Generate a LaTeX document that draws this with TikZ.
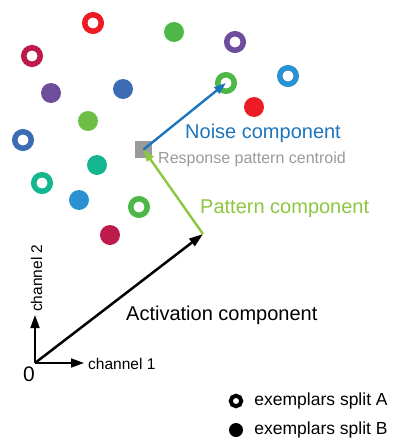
\documentclass[tikz,border=0pt]{standalone}
\usepackage{fontspec}
\setmainfont{Liberation Sans}
\usetikzlibrary{positioning, arrows.meta}

\definecolor{exred}{HTML}{ED1C24}
\definecolor{excrimson}{HTML}{BC1B4B}
\definecolor{expurple}{HTML}{6E4D9D}
\definecolor{exblue}{HTML}{3C6CB4}
\definecolor{exgreen}{HTML}{4DB848}
\definecolor{exlightgreen}{HTML}{6CBE45}
\definecolor{exteal}{HTML}{14B68F}
\definecolor{exsky}{HTML}{2A91D3}
\definecolor{noiseblue}{HTML}{1C75BC}
\definecolor{patterngreen}{HTML}{8DC63F}
\definecolor{centroidgray}{HTML}{9A9A9A}

\begin{document}
\begin{tikzpicture}[x=1pt, y=-1pt,
ringnode/.style={circle, draw=#1, line width=5.5pt, minimum size=16.5pt, inner sep=0pt},
dotnode/.style={circle, fill=#1, minimum size=20pt, inner sep=0pt},
centroidnode/.style={rectangle, fill=centroidgray, minimum size=17pt, inner sep=0pt},
legendring/.style={circle, draw=black, line width=4pt, minimum size=10.5pt, inner sep=0pt},
legenddot/.style={circle, fill=black, minimum size=14pt, inner sep=0pt},
bigtext/.style={font=\fontsize{20}{24}\selectfont, inner sep=0pt},
midtext/.style={font=\fontsize{16}{19}\selectfont, inner sep=0pt},
axistext/.style={font=\fontsize{15.5}{18}\selectfont, inner sep=0pt},
legendtext/.style={font=\fontsize{17.5}{21}\selectfont, inner sep=0pt},
axisline/.style={line width=1.8pt, -{Triangle[length=13pt, width=9pt]}},
actline/.style={line width=2.5pt, -{Triangle[length=14pt, width=9pt]}},
patline/.style={draw=patterngreen, line width=2.4pt, -{Triangle[length=12pt, width=8pt]}},
noiseline/.style={draw=noiseblue, line width=2.4pt, -{Triangle[length=12pt, width=8pt]}},
]
\useasboundingbox (0,0) rectangle (392,442);

%Nodes split A
\node[ringnode=exred]       (redA)       at (93,23)   {};
\node[ringnode=excrimson]   (crimsonA)   at (32,56)   {};
\node[ringnode=exblue]      (blueA)      at (23,140)  {};
\node[ringnode=exteal]      (tealA)      at (42,183)  {};
\node[ringnode=exgreen]     (greenA)     at (139,207) {};
\node[ringnode=expurple]    (purpleA)    at (235,42)  {};
\node[ringnode=exgreen]     (greenAtop)  at (226,83)  {};
\node[ringnode=exsky]       (skyA)       at (288,76)  {};

%Nodes split B
\node[dotnode=exgreen]      (greenB)      at (174,32)  {};
\node[dotnode=expurple]     (purpleB)     at (51,93)   {};
\node[dotnode=exblue]       (blueB)       at (123,89)  {};
\node[dotnode=exlightgreen] (lightgreenB) at (88,121)  {};
\node[dotnode=exteal]       (tealB)       at (97,165)  {};
\node[dotnode=exsky]        (skyB)        at (79,200)  {};
\node[dotnode=excrimson]    (crimsonB)    at (110,235) {};
\node[dotnode=exred]        (redB)        at (254,107) {};

\node[centroidnode] (centroid) at (143.5,149.5) {};

\coordinate (origin) at (35,363);
\coordinate (xend)   at (84,363);
\coordinate (yend)   at (35,315);
\coordinate (act)    at (203,234);

%Labels
\node[bigtext, text=noiseblue, anchor=base west]      (noiselabel)      at (185,138) {Noise component};
\node[midtext, text=centroidgray, anchor=base west]   (centroidlabel)   at (158,163) {Response pattern centroid};
\node[bigtext, text=patterngreen, anchor=base west]   (patternlabel)    at (200,213) {Pattern component};
\node[bigtext, anchor=base west]                      (activationlabel) at (126,320) {Activation component};
\node[axistext, anchor=base west]                     (chone)           at (88,369)  {channel 1};
\node[axistext, rotate=90, anchor=base west]          (chtwo)           at (42,312)  {channel 2};
\node[font=\fontsize{21}{24}\selectfont, inner sep=0pt, anchor=base west] (zero) at (23,381) {0};

%Legend
\node[legendring] (ringA) at (236,401) {};
\node[legenddot]  (dotB)  at (236,430) {};
\node[legendtext] (ringAlabel) [right=11pt of ringA] {exemplars split A};
\node[legendtext] (dotBlabel)  [right=11pt of dotB]  {exemplars split B};

%Lines
\draw[axisline] (origin) -- (xend);
\draw[axisline] (origin) -- (yend);
\draw[actline] (origin) -- (act);
\draw[patline] (act) -- (centroid.center);
\draw[noiseline] (centroid.center) -- (greenAtop.center);
\end{tikzpicture}
\end{document}
